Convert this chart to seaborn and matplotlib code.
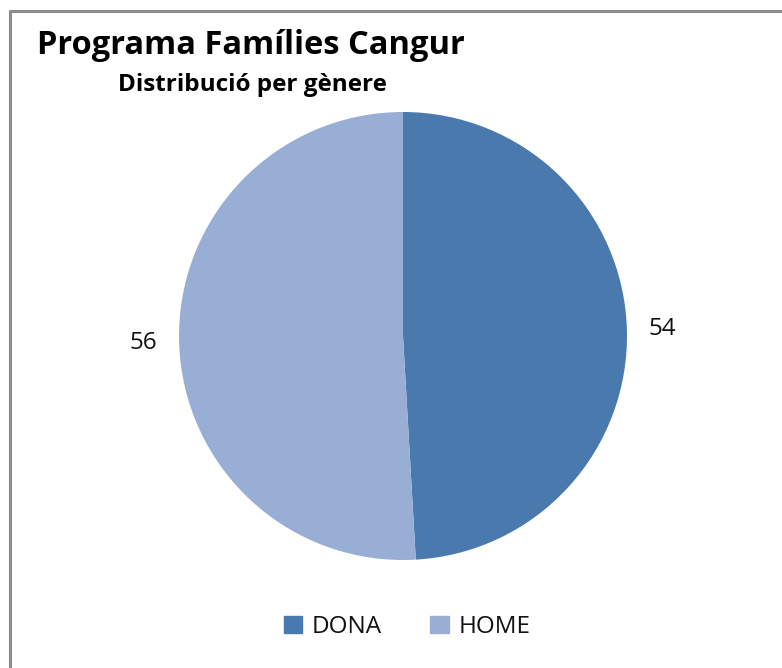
import matplotlib
matplotlib.use("Agg")
import matplotlib.pyplot as plt
import matplotlib.patches as mpatches
from matplotlib.lines import Line2D
import seaborn as sns

# dades
categories = ["DONA", "HOME"]
values = [54, 56]
colors = ["#4a7aad", "#98aed4"]

sns.set_theme(style="white")
plt.rcParams["font.family"] = ["Open Sans", "DejaVu Sans"]

W, H = 782, 668
fig = plt.figure(figsize=(W / 100, H / 100), dpi=100)

# marc gris
fig.add_artist(Line2D([10 / W, 10 / W], [0, 1 - 11 / H], color="#8c8c8c", lw=2.2))
fig.add_artist(Line2D([10 / W, 1], [1 - 11 / H, 1 - 11 / H], color="#8c8c8c", lw=2.2))

# pastís
cx, cy, r = 403, 336, 224
ax = fig.add_axes([(cx - r) / W, (H - cy - r) / H, 2 * r / W, 2 * r / H])
wedges, texts = ax.pie(values, labels=[str(v) for v in values], colors=colors,
                       startangle=90, counterclock=False, labeldistance=1.16,
                       wedgeprops=dict(linewidth=0),
                       textprops=dict(fontsize=17.5, color="#111111"))
for t in texts:
    t.set_ha("center")
    t.set_va("center")
ax.set_xlim(-1, 1)
ax.set_ylim(-1, 1)

fig.text(37 / W, 1 - 45 / H, "Programa Famílies Cangur", fontsize=23.5,
         fontweight="bold", ha="left", va="center", color="black")
fig.text(252 / W, 1 - 85 / H, "Distribució per gènere", fontsize=17.5,
         fontweight="bold", ha="center", va="center", color="black")

handles = [mpatches.Patch(color=c, label=l) for c, l in zip(colors, categories)]
fig.legend(handles=handles, loc="center", bbox_to_anchor=(407 / W, 1 - 627 / H),
           ncol=2, frameon=False, fontsize=17.5, handlelength=0.75, handleheight=0.75,
           handletextpad=0.4, columnspacing=2.0,
           prop=dict(size=17.5))
for t in fig.legends[0].get_texts():
    t.set_color("#111111")

fig.savefig("out.png", dpi=100)
